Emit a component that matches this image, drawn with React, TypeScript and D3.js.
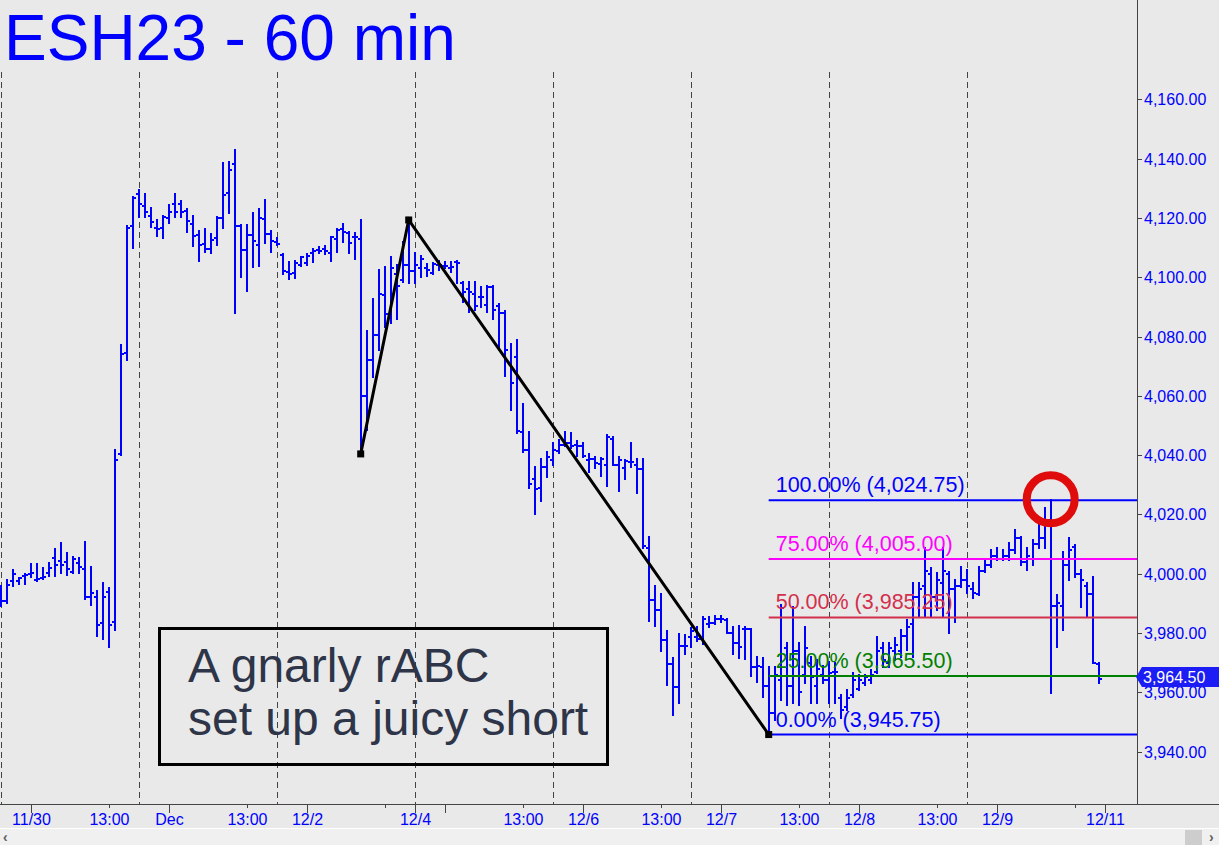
import React from 'react';
import * as d3 from 'd3';

const opens = [
  3993, 3990.8, 3997.5, 3997.5, 3999.3, 3999.9, 3998, 3998.4, 4000.1, 4005.2,
  4004.2, 4003.8, 4000.5, 4003.7, 4001.5, 3992, 3992, 3983.5, 3993.8, 3983.8,
  4040.4, 4074.3, 4117.2, 4128, 4124, 4120.8, 4116.5, 4116.5, 4120, 4124.7,
  4124.7, 4122.4, 4117.9, 4114.2, 4111.2, 4109.4, 4113.1, 4119.8, 4128.3, 4138.2,
  4117.3, 4109.2, 4114.2, 4110.9, 4119.5, 4114.6, 4112, 4107.5, 4101.9, 4101.5,
  4104.1, 4104.7, 4108, 4109.2, 4109.4, 4108.3, 4112.8, 4116.1, 4115, 4113.4,
  4113, 4060, 4072, 4080.5, 4094, 4087, 4101, 4099, 4104, 4102.2,
  4103, 4103, 4101.5, 4104.1, 4103.8, 4103, 4105.2, 4098, 4095.9, 4094.5,
  4093.4, 4090.6, 4096.6, 4090.3, 4087.8, 4071, 4073.2, 4047.9, 4041.7, 4031.8,
  4028.8, 4035.9, 4038.3, 4041.5, 4043.4, 4044, 4043.4, 4043, 4038.3, 4038.6,
  4037, 4036.6, 4045.3, 4036.7, 4035.5, 4037.8, 4036.7, 4035.2, 4008.6, 3991.1,
  3987.8, 3977.6, 3969.5, 3961.9, 3975.6, 3978.8, 3978.5, 3978, 3983, 3983.5,
  3984.6, 3984.4, 3979.9, 3976.5, 3981.5, 3981.5, 3968.6, 3968.6, 3962, 3953,
  3964, 3975, 3962, 3974, 3966, 3970, 3962, 3966, 3964, 3967,
  3958, 3955, 3959, 3961, 3963, 3964, 3967, 3975, 3970, 3974,
  3974, 3979, 3983, 3992, 3996, 4000, 3992, 3997, 4000, 3995,
  3996, 3998, 3995, 3993, 4001, 4003, 4006, 4005, 4006, 4008,
  4012, 4004, 4005, 4010, 4012, 4018, 3989, 3989, 4003, 4009,
  4000, 3996, 3993, 3969.5,
];

const highs = [
  3995.8, 3997.9, 4001.2, 3998.4, 3999.8, 4003.3, 4003.3, 4001.8, 4003.5, 4008.2,
  4010.2, 4006.9, 4005.5, 4005.2, 4010.6, 4002.4, 3994.2, 3996.7, 3995.1, 4041.7,
  4077.2, 4117.1, 4127.2, 4129.3, 4128.1, 4123.2, 4119.3, 4120.5, 4124.3, 4128.1,
  4125.8, 4122.9, 4120.6, 4115.7, 4116.1, 4114.6, 4120.2, 4138.6, 4139, 4142.9,
  4117.6, 4117.6, 4121.5, 4122.9, 4126, 4115.7, 4113.1, 4107.8, 4105.2, 4105.6,
  4106.9, 4107.8, 4109.4, 4110.3, 4110.5, 4113.7, 4116.2, 4117.9, 4115.4, 4115,
  4119.3, 4081.9, 4092.5, 4102.4, 4103.5, 4106.9, 4104, 4112, 4119.3, 4108.3,
  4107, 4104.5, 4104.7, 4105.6, 4105.2, 4105.2, 4105.6, 4098.5, 4098.5, 4098.5,
  4096.6, 4097, 4097, 4091, 4088.7, 4077.6, 4078.8, 4057.2, 4047.9, 4035.9,
  4038.6, 4041.2, 4044.2, 4045.1, 4047.9, 4047.6, 4044.9, 4044, 4040.4, 4039.2,
  4038.9, 4046.8, 4046, 4039.2, 4038.3, 4044.2, 4038.6, 4038.6, 4012.3, 3995.8,
  3993.1, 3980.8, 3971.5, 3979.7, 3979.3, 3981.6, 3982.1, 3985.3, 3985.3, 3985.7,
  3985.7, 3984.6, 3981.9, 3982.4, 3982.1, 3981.5, 3971.8, 3971.5, 3968.6, 3968.6,
  3989.4, 3976.5, 3988.9, 3976.5, 3982, 3972, 3970.9, 3969, 3970.3, 3969.8,
  3959, 3960.8, 3966.4, 3965.8, 3965.8, 3967.5, 3978.8, 3976.5, 3976.5, 3978.2,
  3981, 3984.4, 3996.7, 3996.7, 4008.6, 4001.8, 4000.1, 4008.6, 4000.7, 3997.9,
  4002.4, 4001.2, 3996.7, 4002.4, 4004.6, 4008, 4008.6, 4008, 4010.2, 4014.7,
  4012.5, 4008.6, 4011.4, 4018.1, 4022, 4024.75, 3992.8, 4007.4, 4011.9, 4009.7,
  4001.2, 3996.7, 3999, 3969.8,
];

const lows = [
  3989.1, 3990.2, 3996, 3996.4, 3996.5, 3999, 3997.6, 3998.1, 3999.2, 3999.2,
  4000.1, 3999.5, 4000.1, 4000.1, 3991.3, 3989.4, 3979, 3977.9, 3975.2, 3981,
  4040.1, 4072.1, 4109.8, 4120.2, 4120.2, 4117, 4114, 4113.1, 4118.4, 4120.4,
  4120.4, 4115.3, 4110.5, 4105.6, 4108.6, 4108, 4110.9, 4116.5, 4121.8, 4087.8,
  4100, 4095.5, 4103.6, 4103.8, 4111.6, 4108.6, 4110.9, 4101.1, 4099.3, 4099.6,
  4103.8, 4104.1, 4105.2, 4108, 4107.8, 4105.6, 4108.6, 4112, 4108.3, 4106,
  4040.4, 4048.5, 4066.4, 4075.4, 4083.3, 4084.7, 4086, 4098.5, 4098, 4098.2,
  4100, 4100.4, 4101.1, 4102.4, 4103, 4101.9, 4097.9, 4091.8, 4088.4, 4088.9,
  4090.1, 4088.4, 4085.8, 4076.6, 4066.7, 4055.2, 4047.3, 4041.2, 4028.8, 4020.1,
  4024.6, 4032.5, 4036.7, 4040.8, 4043.1, 4042.3, 4039.7, 4039.2, 4034.4, 4035.5,
  4032.9, 4029.6, 4036.7, 4028, 4031.8, 4036.1, 4027.1, 4008.6, 3984.2, 3982.4,
  3974, 3962.5, 3952.3, 3956.3, 3972.9, 3975.4, 3977.4, 3976.3, 3981.9, 3983,
  3983.8, 3979.9, 3972.9, 3971.5, 3971.1, 3965.5, 3963.6, 3958.5, 3945.75, 3950.7,
  3957.4, 3955.7, 3956.3, 3955.7, 3963, 3956.3, 3956.3, 3963, 3956.3, 3956.3,
  3951.2, 3954, 3958.5, 3960.8, 3962.5, 3963, 3966.4, 3968.6, 3968.6, 3970.9,
  3972, 3974.3, 3972, 3985.5, 3985.5, 3985.5, 3987.8, 3985.5, 3979.9, 3983.8,
  3995.6, 3993.4, 3991.7, 3992.8, 4000.7, 4002.4, 4004.6, 4004.6, 4004.6, 4006.9,
  4002.9, 4001.2, 4002.9, 4008.6, 4008.6, 3959.6, 3975.4, 3981, 3997.9, 3999,
  3988.9, 3985.5, 3969.8, 3963,
];

const closes = [
  3990.8, 3996.1, 3999.9, 3998.4, 3999.5, 4000.3, 3998.3, 3999, 4001.8, 4002.9,
  4002.9, 4001.5, 4004.8, 4002.1, 3992, 3993.6, 3982.6, 3992, 3982.6, 4038.4,
  4074.1, 4116.5, 4126.8, 4124.7, 4122.1, 4118.5, 4116.2, 4120.2, 4122.1, 4122.1,
  4122.1, 4118.9, 4113.9, 4110.9, 4109.4, 4112.5, 4119.8, 4127.7, 4136.2, 4117.3,
  4109.2, 4114.2, 4112.3, 4119.8, 4114.6, 4112.3, 4111.2, 4102.2, 4101.1, 4104.9,
  4106.7, 4107.2, 4108.9, 4108.9, 4108.9, 4113.4, 4115.9, 4115.4, 4111.4, 4113.4,
  4060, 4072, 4080.5, 4094.2, 4087.5, 4103, 4097, 4104, 4102, 4104,
  4106, 4102.4, 4104.5, 4104.1, 4103.8, 4103.3, 4104.7, 4095.1, 4095.1, 4090.3,
  4093.4, 4096.6, 4089.1, 4087.8, 4075.4, 4064.2, 4048, 4041.7, 4030.2, 4028.4,
  4035.9, 4039.2, 4041.7, 4043.4, 4044.2, 4043, 4043, 4039.7, 4038.6, 4037.2,
  4038.6, 4046, 4036.7, 4038.3, 4038, 4037.8, 4035.2, 4009.3, 3991.1, 3987.8,
  3977.6, 3969.5, 3961.9, 3975.6, 3975.6, 3980.8, 3977.9, 3984.6, 3983.5, 3984.6,
  3984.6, 3979.9, 3976.5, 3975.4, 3981.5, 3968.6, 3968.9, 3962.1, 3953, 3966,
  3988.3, 3962, 3974, 3960, 3975, 3965, 3968, 3964, 3966.4, 3967,
  3954, 3958, 3964, 3964, 3965, 3966, 3974, 3971, 3975, 3976,
  3979, 3982, 3992, 3995, 4001, 3992, 3998, 4001, 3995, 3996,
  3998, 3996, 3993.4, 4001, 4003, 4006, 4005, 4006, 4008, 4012,
  4004, 4006, 4010, 4012, 4018, 3989, 3990, 4003, 4008, 4000,
  3998, 3993, 3970, 3964.5,
];

const yTicks = [3940, 3960, 3980, 4000, 4020, 4040, 4060, 4080, 4100, 4120, 4140, 4160];
const xTickIndex = [5, 18, 28, 41, 51, 64, 69, 74, 87, 97, 110, 120, 133, 143, 156, 166, 179, 184];
const xTickLabels = ['11/30', '13:00', 'Dec', '13:00', '12/2', '', '12/4', '', '13:00', '12/6', '13:00', '12/7', '13:00', '12/8', '13:00', '12/9', '', '12/11'];
const sessionStarts = [0, 23, 46, 69, 92, 115, 138, 161];
const fibLevels = [4024.75, 4005.0, 3985.25, 3965.5, 3945.75];
const fibPcts = ['100.00%', '75.00%', '50.00%', '25.00%', '0.00%'];
const fibColors = ['#0000ff', '#ff00ff', '#d2304c', '#008000', '#0000ff'];
const abcIndex = [60, 68, 128];
const abcPrice = [4040.4, 4119.3, 3945.75];
const lastPrice = 3964.5;
const circleIndex = 175;

const FONT = '"Liberation Sans", Arial, Helvetica, sans-serif';
const BLUE = '#0000ff';

export default function App() {
  const W = 1219;
  const H = 845;
  const axisX = 1137;
  const axisY = 804;
  const x = d3.scaleLinear().domain([0, 183]).range([0.7, 1098.7]);
  const y = d3.scaleLinear().domain([3940, 4160]).range([751.6, 99.3]);
  const fmt = d3.format(',.2f');

  const bars = opens.map((o, i) => {
    const cx = Math.round(x(i));
    const yh = Math.round(y(highs[i]));
    const yl = Math.round(y(lows[i]));
    const yo = Math.round(y(o));
    const yc = Math.round(y(closes[i]));
    return (
      <g key={i}>
        <line x1={cx} x2={cx} y1={yh - 1} y2={yl + 1} stroke={BLUE} strokeWidth={2} />
        <line x1={cx - 3} x2={cx} y1={yo} y2={yo} stroke={BLUE} strokeWidth={2} />
        <line x1={cx} x2={cx + 3} y1={yc} y2={yc} stroke={BLUE} strokeWidth={2} />
      </g>
    );
  });

  const fibX0 = x(abcIndex[2]);
  const abcPts = abcIndex.map((idx, k) => [x(idx), y(abcPrice[k])] as [number, number]);
  const abcPath = d3.line()(abcPts) || '';

  const ty = y(lastPrice) - 2;

  return (
    <svg width={W} height={H} style={{ position: 'absolute', left: 0, top: 0, display: 'block' }} fontFamily={FONT}>
      <rect x={0} y={0} width={W} height={H} fill="#e9e9e9" />
      <text x={4} y={60} fontSize={64} fill={BLUE}>ESH23 - 60 min</text>

      {sessionStarts.map((s) => (
        <line key={s} x1={Math.round(x(s)) + 0.5} x2={Math.round(x(s)) + 0.5} y1={72} y2={axisY}
          stroke="#444" strokeWidth={1} strokeDasharray="6,4" />
      ))}

      <g shapeRendering="crispEdges">{bars}</g>

      {fibLevels.map((lv, k) => (
        <g key={k}>
          <line x1={fibX0} x2={axisX} y1={y(lv)} y2={y(lv)} stroke={fibColors[k]} strokeWidth={2} />
          <text x={fibX0 + 7} y={y(lv) - 8} fontSize={21.5} fill={fibColors[k]}>
            {`${fibPcts[k]} (${fmt(lv)})`}
          </text>
        </g>
      ))}

      <path d={abcPath} fill="none" stroke="#000" strokeWidth={3} />
      {abcPts.map((p, k) => (
        <rect key={k} x={p[0] - 3.5} y={p[1] - 3.5} width={7} height={7} fill="#000" />
      ))}

      <circle cx={x(circleIndex)} cy={y(highs[circleIndex]) - 1} r={24} fill="none" stroke="#e00c0c" strokeWidth={8} />

      <rect x={159.5} y={628.5} width={448} height={136} fill="none" stroke="#000" strokeWidth={3} />
      <text x={188} y={682} fontSize={48} fill="#2e3548">A gnarly rABC</text>
      <text x={188} y={735} fontSize={48} fill="#2e3548">set up a juicy short</text>

      {/* right axis */}
      <line x1={axisX + 0.5} x2={axisX + 0.5} y1={0} y2={axisY} stroke="#444" strokeWidth={1} />
      {yTicks.map((t) => (
        <g key={t}>
          <line x1={axisX} x2={axisX + 5} y1={Math.round(y(t)) + 0.5} y2={Math.round(y(t)) + 0.5} stroke="#444" strokeWidth={1} />
          <text x={axisX + 7} y={y(t) + 6} fontSize={16} fill={BLUE}>{fmt(t)}</text>
        </g>
      ))}

      {/* last price tag */}
      <path d={`M${axisX - 1},${ty} L${axisX + 5},${ty - 10} L${W},${ty - 10} L${W},${ty + 10} L${axisX + 5},${ty + 10} Z`} fill="#1c1cf5" />
      <text x={axisX + 6} y={ty + 6} fontSize={16} fill="#fff">{fmt(lastPrice)}</text>

      {/* bottom axis */}
      <line x1={0} x2={W} y1={axisY + 0.5} y2={axisY + 0.5} stroke="#444" strokeWidth={1} />
      {xTickIndex.map((ti, k) => {
        const tx = Math.round(x(ti)) + 0.5;
        const lab = xTickLabels[k];
        const len = lab === '13:00' || (lab === '' && ti !== 74) ? 4 : 9;
        return (
          <g key={k}>
            <line x1={tx} x2={tx} y1={axisY} y2={axisY + len} stroke="#444" strokeWidth={1} />
            {lab && <text x={tx} y={825} fontSize={16} fill={BLUE} textAnchor="middle">{lab}</text>}
          </g>
        );
      })}

      {/* scrollbar */}
      <rect x={0} y={828} width={W} height={1} fill="#fff" />
      <rect x={0} y={829} width={W} height={16} fill="#f0f0f0" />
      <rect x={1185} y={830} width={17} height={15} fill="#cdcdcd" />
      <text x={3} y={842} fontSize={14} fontWeight="bold" fill="#606060">‹</text>
      <text x={1209} y={842} fontSize={14} fontWeight="bold" fill="#606060">›</text>
    </svg>
  );
}
